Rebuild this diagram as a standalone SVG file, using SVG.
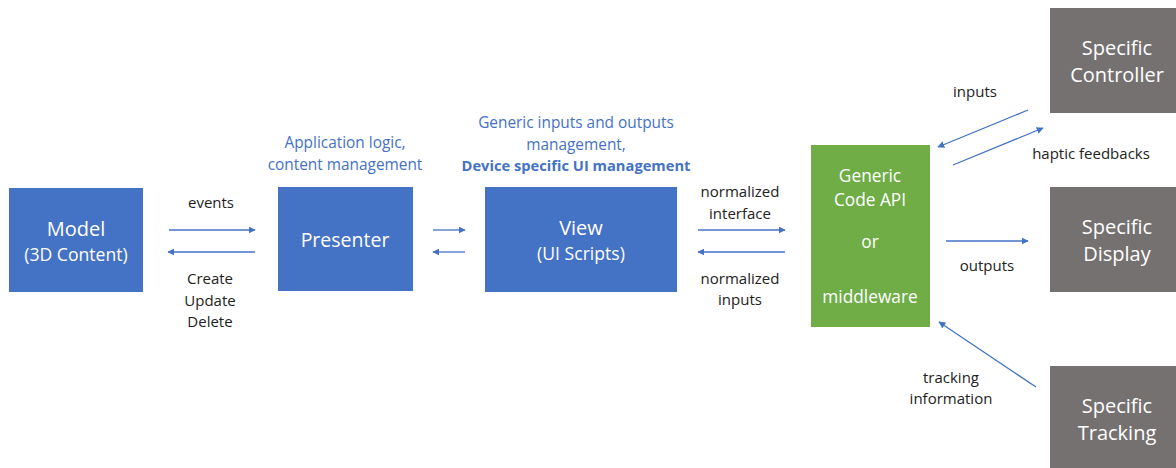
<svg xmlns="http://www.w3.org/2000/svg" width="1176" height="468" viewBox="0 0 1176 468">
<style>
text{font-family:"Open Sans","Noto Sans","DejaVu Sans",sans-serif;text-anchor:middle}
.nt{fill:#fff;font-size:20px}
.sm{font-size:17.6px}
.gt{font-size:17.3px}
.lb{fill:#222;font-size:15px}
.hd{fill:#4472C4;font-size:15.4px}
.b{fill:#4472C4}.g{fill:#70AD47}.gr{fill:#767171}
.c{stroke:#4472C4;stroke-width:1.3;fill:none;marker-end:url(#ah)}
</style>
<defs>
<marker id="ah" viewBox="0 0 10 10" refX="9" refY="5" markerWidth="7" markerHeight="7" markerUnits="userSpaceOnUse" orient="auto"><path d="M0,0L10,5L0,10z" fill="#4472C4"/></marker>
</defs>
<rect width="1176" height="468" fill="#fff"/>
<g id="model"><rect class="b" x="9" y="188" width="134" height="104"/><text class="nt" x="76" y="236">Model</text><text class="nt sm" x="76" y="261">(3D Content)</text></g>
<g id="presenter"><rect class="b" x="278" y="187" width="135" height="104"/><text class="nt" x="345" y="247" style="font-size:19.5px">Presenter</text><text class="hd" x="345" y="148">Application logic,</text><text class="hd" x="345" y="170">content management</text></g>
<g id="view"><rect class="b" x="485" y="187" width="192" height="105"/><text class="nt" x="581" y="235">View</text><text class="nt sm" x="581" y="260">(UI Scripts)</text><text class="hd" x="576" y="128">Generic inputs and outputs</text><text class="hd" x="576" y="150">management,</text><text class="hd" x="576" y="171" font-weight="bold" style="font-size:14.7px">Device specific UI management</text></g>
<g id="api"><rect class="g" x="811" y="145" width="119" height="182"/><text class="nt gt" x="870" y="182">Generic</text><text class="nt gt" x="870" y="206">Code API</text><text class="nt gt" x="870" y="248">or</text><text class="nt gt" x="870" y="303">middleware</text></g>
<g id="controller"><rect class="gr" x="1050" y="8" width="126" height="105"/><text class="nt" x="1117" y="55">Specific</text><text class="nt" x="1117" y="82">Controller</text></g>
<g id="display"><rect class="gr" x="1050" y="187" width="126" height="105"/><text class="nt" x="1117" y="234">Specific</text><text class="nt" x="1117" y="261">Display</text></g>
<g id="tracking"><rect class="gr" x="1050" y="366" width="126" height="102"/><text class="nt" x="1117" y="413">Specific</text><text class="nt" x="1117" y="440">Tracking</text></g>
<g id="connectors">
<line class="c" x1="169" y1="230" x2="255" y2="230"/>
<line class="c" x1="255" y1="252" x2="168" y2="252"/>
<line class="c" x1="433" y1="230" x2="465" y2="230"/>
<line class="c" x1="465" y1="252" x2="433" y2="252"/>
<line class="c" x1="698" y1="230" x2="785" y2="230"/>
<line class="c" x1="785" y1="252" x2="698" y2="252"/>
<line class="c" x1="946" y1="241" x2="1028" y2="241"/>
<line class="c" x1="1028" y1="110" x2="938" y2="147"/>
<line class="c" x1="953" y1="165" x2="1043" y2="128"/>
<line class="c" x1="1036" y1="387" x2="939" y2="322"/>
</g>
<g id="labels">
<text class="lb" x="211" y="208">events</text>
<text class="lb" x="210" y="284">Create</text>
<text class="lb" x="210" y="306">Update</text>
<text class="lb" x="210" y="327">Delete</text>
<text class="lb" x="740" y="197">normalized</text>
<text class="lb" x="740" y="219">interface</text>
<text class="lb" x="740" y="284">normalized</text>
<text class="lb" x="740" y="305">inputs</text>
<text class="lb" x="975" y="97">inputs</text>
<text class="lb" x="1091" y="159">haptic feedbacks</text>
<text class="lb" x="987" y="271">outputs</text>
<text class="lb" x="951" y="383">tracking</text>
<text class="lb" x="951" y="404">information</text>
</g>
</svg>
